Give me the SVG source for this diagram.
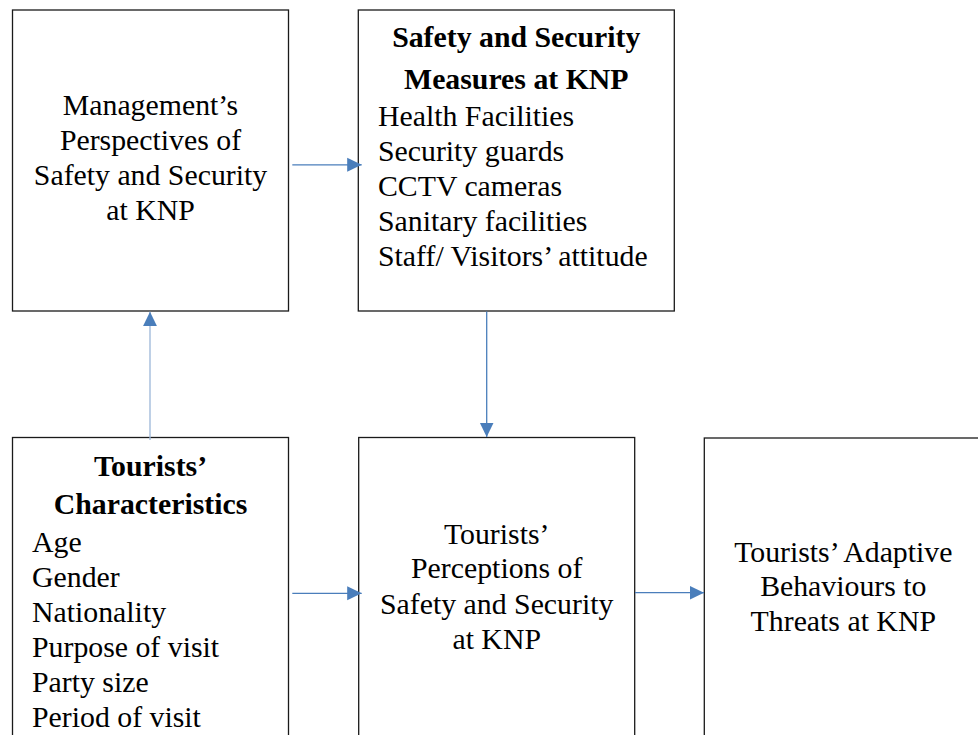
<svg xmlns="http://www.w3.org/2000/svg" width="978" height="735" viewBox="0 0 978 735">
<style>
.box{fill:#fff;stroke:#1a1a1a;stroke-width:1.3}
.t{font-size:29.8px;fill:#000}
.c{text-anchor:middle}
.b{font-weight:bold}
.conn{stroke:#4a7ebb;stroke-width:1.3;fill:none}
.light{stroke:#9bb6d8}
</style>
<defs>
<marker id="ah" markerUnits="userSpaceOnUse" markerWidth="15" markerHeight="15" refX="14.5" refY="7" orient="auto" viewBox="0 0 15 14">
<path d="M0,0 L14.5,7 L0,14 z" fill="#4a7ebb"/>
</marker>
</defs>
<rect width="978" height="735" fill="#fff"/>
<g font-family="Liberation Serif, serif">
<g id="management">
<rect class="box" x="12.5" y="10" width="276" height="301"/>
<text class="t c" x="150.5" y="115">Management’s</text>
<text class="t c" x="150.5" y="150">Perspectives of</text>
<text class="t c" x="150.5" y="185">Safety and Security</text>
<text class="t c" x="150.5" y="220">at KNP</text>
</g>
<g id="measures">
<rect class="box" x="358.3" y="10" width="316" height="301"/>
<text class="t c b" x="516.3" y="47">Safety and Security</text>
<text class="t c b" x="516.3" y="88.5">Measures at KNP</text>
<text class="t" x="378" y="126">Health Facilities</text>
<text class="t" x="378" y="161">Security guards</text>
<text class="t" x="378" y="196">CCTV cameras</text>
<text class="t" x="378" y="231">Sanitary facilities</text>
<text class="t" x="378" y="266">Staff/ Visitors’ attitude</text>
</g>
<g id="characteristics">
<rect class="box" x="12.5" y="437.5" width="276" height="305"/>
<text class="t c b" x="150.5" y="476">Tourists’</text>
<text class="t c b" x="150.5" y="514">Characteristics</text>
<text class="t" x="32" y="552">Age</text>
<text class="t" x="32" y="587">Gender</text>
<text class="t" x="32" y="622">Nationality</text>
<text class="t" x="32" y="657">Purpose of visit</text>
<text class="t" x="32" y="692">Party size</text>
<text class="t" x="32" y="727">Period of visit</text>
</g>
<g id="perceptions">
<rect class="box" x="358.7" y="437.5" width="276" height="305"/>
<text class="t c" x="496.7" y="543.5">Tourists’</text>
<text class="t c" x="496.7" y="578">Perceptions of</text>
<text class="t c" x="496.7" y="613.5">Safety and Security</text>
<text class="t c" x="496.7" y="648.5">at KNP</text>
</g>
<g id="adaptive">
<rect class="box" x="704.3" y="438" width="278" height="305"/>
<text class="t c" x="843.3" y="562">Tourists’ Adaptive</text>
<text class="t c" x="843.3" y="596">Behaviours to</text>
<text class="t c" x="843.3" y="631">Threats at KNP</text>
</g>
</g>
<g id="connectors">
<line class="conn" x1="292.3" y1="164.8" x2="361.7" y2="164.8" marker-end="url(#ah)"/>
<line class="conn light" x1="150" y1="440" x2="150" y2="311.7" marker-end="url(#ah)"/>
<line class="conn" x1="486.7" y1="311.5" x2="486.7" y2="437" marker-end="url(#ah)"/>
<line class="conn" x1="292.3" y1="593.3" x2="361.7" y2="593.3" marker-end="url(#ah)"/>
<line class="conn" x1="635" y1="592.7" x2="704" y2="592.7" marker-end="url(#ah)"/>
</g>
</svg>
